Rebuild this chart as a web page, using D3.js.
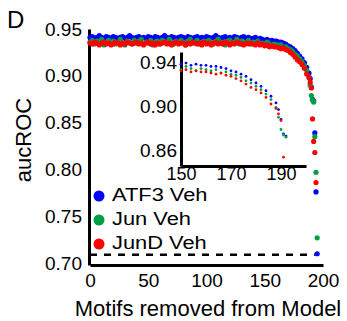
<!DOCTYPE html>
<html>
<head>
<meta charset="utf-8">
<script src="https://cdn.jsdelivr.net/npm/d3@7"></script>
<style>
  body { margin: 0; background: #fff; }
  svg text { font-family: "Liberation Sans", Arial, sans-serif; fill: #000; }
</style>
</head>
<body>
<div id="chart"></div>
<script>
// motifs removed (x), shared by the three series
var motifs = [0,2,4,6,8,10,12,14,16,18,20,22,24,26,28,30,32,34,36,38,
  40,42,44,46,48,50,52,54,56,58,60,62,64,66,68,70,72,74,76,78,
  80,82,84,86,88,90,92,94,96,98,100,102,104,106,108,110,112,114,116,118,
  120,122,124,126,128,130,132,134,136,138,140,142,144,146,148,150,152,154,156,158,
  160,162,164,166,168,170,172,174,176,178,180,182,184,186,188,
  189,190,191,192,193,194,195];

var atf3Veh = [.941,.942,.940,.941,.943,.941,.940,.942,.941,.940,
  .942,.941,.940,.941,.942,.940,.941,.943,.941,.940,
  .941,.942,.940,.941,.940,.942,.941,.940,.942,.941,
  .940,.941,.943,.941,.940,.942,.941,.940,.941,.942,
  .941,.940,.942,.941,.940,.941,.942,.940,.941,.940,
  .942,.941,.940,.941,.943,.941,.940,.941,.942,.940,
  .941,.940,.942,.941,.940,.941,.942,.940,.941,.940,
  .940,.941,.939,.940,.939,.938,.939,.937,.938,.937,
  .937,.936,.936,.935,.934,.932,.931,.929,.927,.924,
  .921,.918,.914,.909,.903,
  .897,.888,.875,.873,.839,.776,.710];

var junVeh = [.936,.938,.934,.937,.935,.939,.933,.936,.938,.935,
  .937,.934,.936,.939,.935,.933,.937,.936,.934,.938,
  .935,.937,.939,.934,.936,.935,.938,.933,.936,.937,
  .934,.938,.936,.935,.939,.936,.934,.937,.935,.938,
  .936,.933,.937,.939,.935,.936,.938,.934,.936,.937,
  .935,.938,.936,.934,.937,.939,.935,.936,.933,.937,
  .938,.935,.936,.939,.934,.937,.936,.935,.938,.934,
  .936,.935,.937,.934,.935,.933,.936,.934,.932,.934,
  .933,.932,.933,.930,.931,.929,.928,.926,.923,.921,
  .918,.915,.911,.906,.899,
  .890,.879,.874,.872,.835,.797,.727];

var junDVeh = [.935,.934,.936,.935,.933,.935,.936,.934,.935,.933,
  .934,.936,.935,.933,.935,.934,.936,.935,.934,.935,
  .936,.934,.935,.933,.935,.936,.934,.935,.933,.935,
  .934,.935,.936,.934,.935,.933,.935,.936,.934,.935,
  .935,.933,.935,.934,.936,.935,.934,.935,.933,.936,
  .934,.935,.933,.935,.936,.934,.935,.934,.936,.935,
  .933,.935,.934,.936,.935,.934,.933,.935,.934,.935,
  .934,.933,.935,.933,.934,.932,.933,.931,.932,.931,
  .931,.930,.929,.930,.928,.927,.925,.923,.920,.917,
  .915,.912,.908,.902,.898,
  .893,.887,.854,.830,.818,.786,null];

var seriesNames = ["ATF3 Veh", "Jun Veh", "JunD Veh"];
var seriesColors = ["#0000ff", "#00a040", "#ff0000"];
var baseline = 0.709;          // dashed reference line
var baselineSpan = [0, 193];

var mainXTicks = [0, 50, 100, 150, 200];
var mainYTicks = [0.70, 0.75, 0.80, 0.85, 0.90, 0.95];
var insetXTicks = [150, 170, 190];
var insetYTicks = [0.86, 0.90, 0.94];

var W = 347, H = 321;
var svg = d3.select("#chart").append("svg").attr("width", W).attr("height", H);

var series = [atf3Veh, junVeh, junDVeh].map(function(vals, i) {
  return {
    name: seriesNames[i], color: seriesColors[i],
    pts: motifs.map(function(m, j) { return {x: m, y: vals[j]}; })
               .filter(function(d) { return d.y != null; })
  };
});

// main scales
var x = d3.scaleLinear().domain([0, 200]).range([90, 323]);
var y = d3.scaleLinear().domain([0.698, 0.95]).range([265, 29]);

// inset scales
var xi = d3.scaleLinear().domain([150, 200]).range([181, 306]);
var yi = d3.scaleLinear().domain([0.846, 0.949]).range([166, 52]);

function styleAxis(g, size) {
  g.select(".domain").attr("stroke", "#000").attr("stroke-width", 3);
  g.selectAll("text").attr("font-size", size).attr("font-family", '"Liberation Sans", Arial, sans-serif');
}

// main axes
svg.append("g").attr("transform", "translate(0,265)")
  .call(d3.axisBottom(x).tickValues(mainXTicks).tickFormat(d3.format("d")).tickSize(0).tickPadding(9))
  .call(styleAxis, 19);
svg.append("g").attr("transform", "translate(89,0)")
  .call(d3.axisLeft(y).tickValues(mainYTicks).tickFormat(d3.format(".2f")).tickSize(0).tickPadding(7))
  .call(styleAxis, 19);

// dashed baseline
svg.append("line")
  .attr("x1", x(baselineSpan[0])).attr("x2", x(baselineSpan[1]))
  .attr("y1", y(baseline)).attr("y2", y(baseline))
  .attr("stroke", "#000").attr("stroke-width", 2.5).attr("stroke-dasharray", "7,7");

// main points
series.forEach(function(s) {
  svg.append("g").selectAll("circle").data(s.pts).enter().append("circle")
    .attr("cx", function(d) { return x(d.x); })
    .attr("cy", function(d) { return y(d.y); })
    .attr("r", 2.6)
    .attr("fill", s.color);
});

// inset
var inset = svg.append("g");
inset.append("g").attr("transform", "translate(0,166)")
  .call(d3.axisBottom(xi).tickValues(insetXTicks).tickFormat(d3.format("d")).tickSize(0).tickPadding(1))
  .call(styleAxis, 18);
inset.append("g").attr("transform", "translate(181,0)")
  .call(d3.axisLeft(yi).tickValues(insetYTicks).tickFormat(d3.format(".2f")).tickSize(0).tickPadding(4))
  .call(styleAxis, 19);

series.forEach(function(s) {
  inset.append("g").selectAll("circle")
    .data(s.pts.filter(function(d) { return d.x >= 150 && d.y >= yi.domain()[0] && d.y <= yi.domain()[1]; }))
    .enter().append("circle")
    .attr("cx", function(d) { return xi(d.x); })
    .attr("cy", function(d) { return yi(d.y); })
    .attr("r", 1.4)
    .attr("fill", s.color);
});

// legend
var leg = svg.append("g");
series.forEach(function(s, i) {
  var ly = 196 + i * 24;
  leg.append("circle").attr("cx", 99).attr("cy", ly).attr("r", 5.5).attr("fill", s.color);
  leg.append("text").attr("x", 112).attr("y", ly + 5)
    .attr("font-size", 19).attr("transform", "translate(112," + (ly + 5) + ") scale(1.15,1) translate(-112," + (-(ly + 5)) + ")")
    .text(s.name);
});

// titles
svg.append("text").attr("x", 208).attr("y", 316).attr("text-anchor", "middle")
  .attr("font-size", 22).text("Motifs removed from Model");
svg.append("text").attr("transform", "translate(31,140) rotate(-90)")
  .attr("text-anchor", "middle").attr("font-size", 22).text("aucROC");
svg.append("text").attr("x", 7).attr("y", 28).attr("font-size", 24).text("D");
</script>
</body>
</html>
